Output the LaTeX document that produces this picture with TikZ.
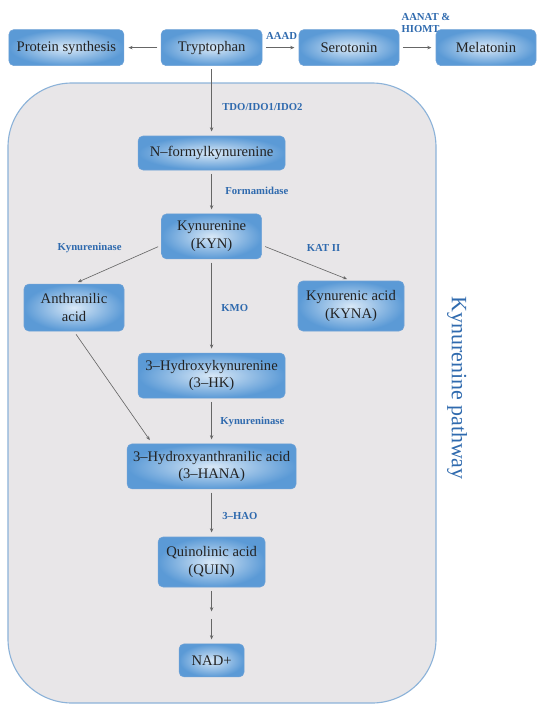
\documentclass[tikz,border=0pt]{standalone}
\usepackage{fontspec}
\setmainfont{Liberation Serif}
\usetikzlibrary{arrows.meta, positioning, calc}
\definecolor{cfill}{HTML}{E8E6E8}
\definecolor{cframe}{HTML}{8DB3D9}
\definecolor{cinner}{HTML}{D8E8F7}
\definecolor{couter}{HTML}{5B9AD6}
\definecolor{cedge}{HTML}{6FA2D6}
\definecolor{clabel}{HTML}{2F6AAE}
\definecolor{ctext}{HTML}{222222}
\definecolor{carrow}{HTML}{666666}
\tikzset{
  every picture/.style={font=\fontsize{10.4}{12.5}\selectfont, line width=0.5pt},
  box/.style={draw=cedge, line width=0.4pt, inner color=cinner, outer color=couter, rounded corners=3.5pt, align=center, text=ctext, inner sep=2pt, minimum height=0.85cm},
  arrow/.style={-{Stealth[length=3pt, width=2.4pt]}, draw=carrow, line width=0.45pt, shorten <=2.5pt, shorten >=3pt},
  enzyme/.style={font=\fontsize{7.6}{9}\selectfont\bfseries, text=clabel, inner sep=0pt},
  title/.style={font=\fontsize{15.6}{18}\selectfont, text=clabel},
}
\begin{document}
\begin{tikzpicture}
  \useasboundingbox (0,0) rectangle (13.6,-17.925);
  \draw[draw=cframe, fill=cfill, line width=0.8pt, rounded corners=1.6cm] (0.2,-2.075) rectangle (10.9,-17.575);
  \node[box, minimum width=2.875cm, minimum height=0.9cm] (prot) at (1.66,-1.19)  {Protein synthesis};
  \node[box, minimum width=2.525cm, minimum height=0.9cm] (tryp) at (5.29,-1.19)  {Tryptophan};
  \node[box, minimum width=2.5cm,   minimum height=0.9cm] (sero) at (8.725,-1.19) {Serotonin};
  \node[box, minimum width=2.5cm,   minimum height=0.9cm] (mel)  at (12.15,-1.19) {Melatonin};
  \node[box, minimum width=3.675cm] (nfk)  at (5.29,-3.825)  {N--formylkynurenine};
  \node[box, minimum width=2.5cm,  minimum height=1.125cm] (kyn)  at (5.29,-5.91)  {Kynurenine\\(KYN)};
  \node[box, minimum width=2.5cm,  minimum height=1.175cm] (anth) at (1.85,-7.69)  {Anthranilic\\acid};
  \node[box, minimum width=2.65cm, minimum height=1.25cm]  (kyna) at (8.775,-7.65) {Kynurenic acid\\(KYNA)};
  \node[box, minimum width=3.675cm, minimum height=1.125cm] (hk)  at (5.29,-9.39)  {3--Hydroxykynurenine\\(3--HK)};
  \node[box, minimum width=4.225cm, minimum height=1.125cm] (hana) at (5.29,-11.66) {3--Hydroxyanthranilic acid\\(3--HANA)};
  \node[box, minimum width=2.675cm, minimum height=1.25cm]  (quin) at (5.29,-14.05) {Quinolinic acid\\(QUIN)};
  \node[box, minimum width=1.625cm, minimum height=0.825cm] (nad)  at (5.29,-16.51) {NAD+};
  \coordinate (mid) at (5.29,-15.39);
  \draw[arrow] (tryp) -- (prot);
  \draw[arrow] (tryp) -- (sero);
  \draw[arrow] (sero) -- (mel);
  \draw[arrow] (tryp) -- (nfk);
  \draw[arrow] (nfk) -- (kyn);
  \draw[arrow] (kyn.190) -- (anth.north);
  \draw[arrow] (kyn.350) -- (kyna.north);
  \draw[arrow] (kyn) -- (hk);
  \draw[arrow] (anth.south) -- (hana.159);
  \draw[arrow] (hk) -- (hana);
  \draw[arrow] (hana) -- (quin);
  \draw[arrow] (quin) -- (mid);
  \draw[arrow] (mid) -- (nad);
  \node[enzyme] (aaad) at (7.04,-0.9) {AAAD};
  \node[enzyme, anchor=west, align=left] (aanat) at (10.03,-0.575) {AANAT \&\\HIOMT};
  \node[enzyme, anchor=west] (tdo) at (5.55,-2.675) {TDO/IDO1/IDO2};
  \node[enzyme, anchor=west] (form) at (5.625,-4.775) {Formamidase};
  \node[enzyme] (kynu1) at (2.24,-6.2) {Kynureninase};
  \node[enzyme] (kat) at (8.09,-6.2) {KAT II};
  \node[enzyme, anchor=west] (kmo) at (5.525,-7.7) {KMO};
  \node[enzyme, anchor=west] (kynu2) at (5.5,-10.55) {Kynureninase};
  \node[enzyme, anchor=west] (hao) at (5.55,-12.9) {3--HAO};
  \node[title, rotate=-90] (kp) at (11.425,-9.7) {Kynurenine pathway};
\end{tikzpicture}
\end{document}
